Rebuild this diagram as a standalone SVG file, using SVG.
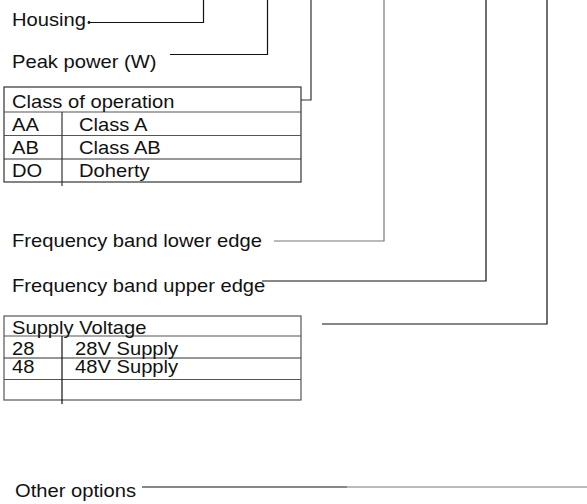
<svg xmlns="http://www.w3.org/2000/svg" width="587" height="504" viewBox="0 0 587 504">
<style>
text{font-family:"Liberation Sans",Arial,sans-serif;font-size:18px;fill:#111}
.c{fill:none;stroke:#111;stroke-width:1.2}
.g{fill:none;stroke:#777;stroke-width:1.2}
.t{fill:none;stroke:#333;stroke-width:1.2}
.r{fill:none;stroke:#555;stroke-width:1.2}
</style>
<rect width="587" height="504" fill="#fff"/>
<g id="connectors">
<polyline class="c" points="89,22.5 203.5,22.5 203.5,0"/>
<circle cx="89" cy="22.5" r="1.4" fill="#111"/>
<polyline class="c" points="170,54.5 267.5,54.5 267.5,0"/>
<polyline class="t" points="301,100 311,100 311,0"/>
<polyline class="g" points="274,241 384,241 384,0"/>
<polyline class="c" points="262,281 486,281 486,0"/>
<polyline class="c" points="322,324 547,324 547,0"/>
<line class="c" x1="142" y1="487" x2="347" y2="487" stroke-width="1.6"/>
<line class="g" x1="347" y1="487" x2="587" y2="487" stroke-width="1.6"/>
</g>
<g id="housing"><text transform="translate(12,26) scale(1.12,1)">Housing</text></g>
<g id="peak-power"><text transform="translate(12,68) scale(1.12,1)">Peak power (W)</text></g>
<g id="class-of-operation">
<rect class="t" x="4" y="87" width="297" height="95"/>
<line class="r" x1="4" y1="112" x2="301" y2="112"/>
<line class="r" x1="4" y1="135.5" x2="301" y2="135.5"/>
<line class="t" x1="4" y1="159" x2="301" y2="159"/>
<line class="t" x1="62" y1="112" x2="62" y2="186"/>
<text transform="translate(12,107.5) scale(1.12,1)">Class of operation</text>
<text transform="translate(12,131) scale(1.12,1)">AA</text>
<text transform="translate(79,131) scale(1.12,1)">Class A</text>
<text transform="translate(12,154) scale(1.12,1)">AB</text>
<text transform="translate(79,154) scale(1.12,1)">Class AB</text>
<text transform="translate(12,177) scale(1.12,1)">DO</text>
<text transform="translate(79,177) scale(1.12,1)">Doherty</text>
</g>
<g id="freq-lower"><text transform="translate(12,247) scale(1.12,1)">Frequency band lower edge</text></g>
<g id="freq-upper"><text transform="translate(12,292) scale(1.12,1)">Frequency band upper edge</text></g>
<g id="supply-voltage">
<rect class="r" x="4" y="316" width="297" height="84"/>
<line class="r" x1="4" y1="336" x2="301" y2="336"/>
<line class="t" x1="4" y1="358" x2="301" y2="358"/>
<line class="r" x1="4" y1="379.5" x2="301" y2="379.5"/>
<line class="c" x1="62" y1="336" x2="62" y2="404"/>
<text transform="translate(12,334) scale(1.12,1)">Supply Voltage</text>
<text transform="translate(12,355) scale(1.12,1)">28</text>
<text transform="translate(75,355) scale(1.12,1)">28V Supply</text>
<text transform="translate(12,373) scale(1.12,1)">48</text>
<text transform="translate(75,373) scale(1.12,1)">48V Supply</text>
</g>
<g id="other-options"><text transform="translate(15,497) scale(1.12,1)">Other options</text></g>
</svg>
